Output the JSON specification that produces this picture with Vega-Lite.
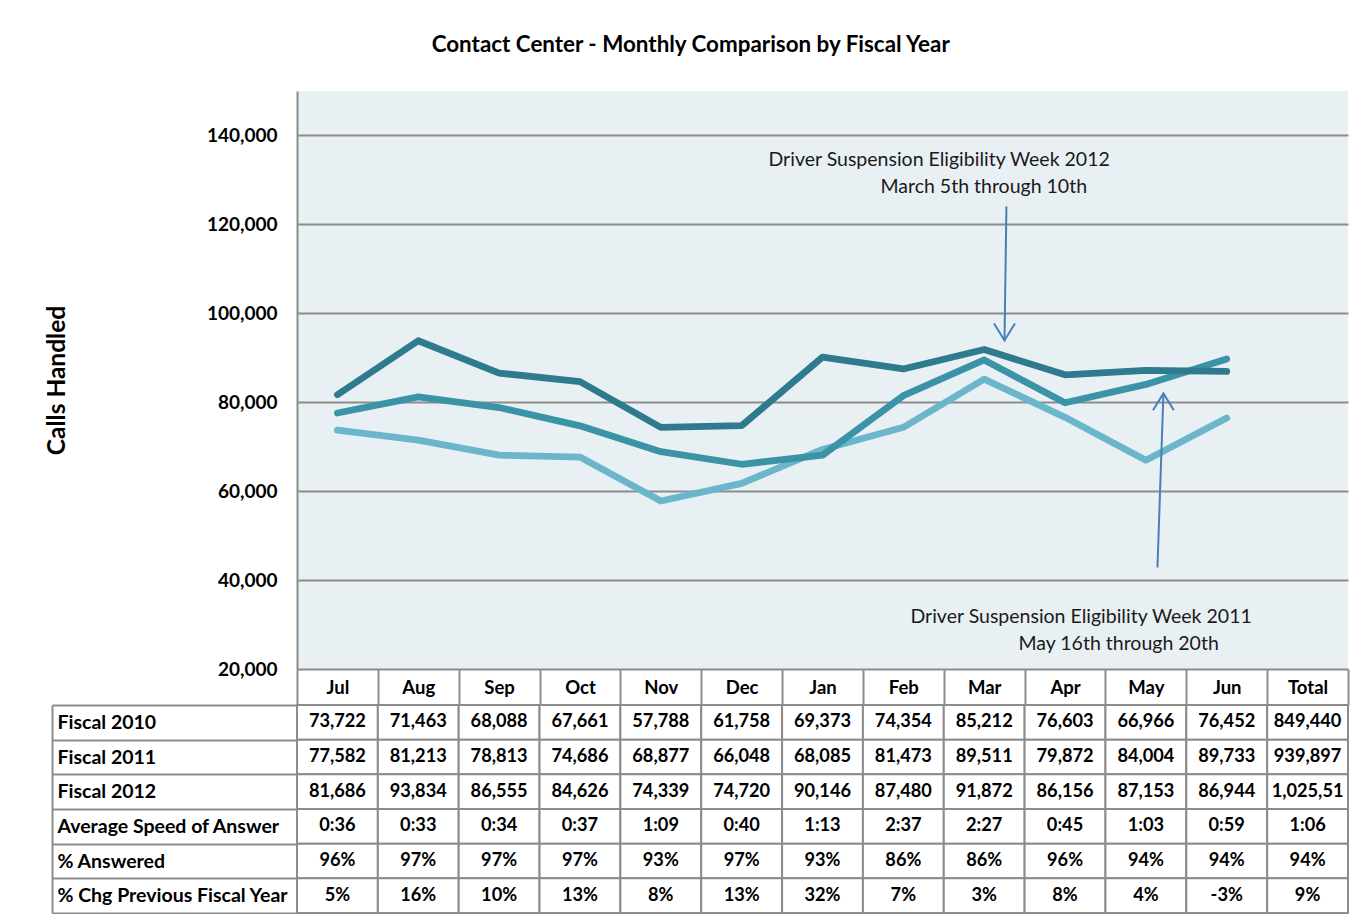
{
  "$schema": "https://vega.github.io/schema/vega-lite/v6.json",
  "background": "white",
  "padding": {"left": 44, "top": 33, "right": 10, "bottom": 0},
  "config": {"view": {"stroke": null}, "font": "Lato"},
  "title": {"text": "Contact Center - Monthly Comparison by Fiscal Year", "font": "Lato", "fontSize": 22.4, "fontWeight": "bold", "color": "black", "anchor": "middle", "offset": 35, "dx": -6},
  "spacing": 36,
  "bounds": "flush",
  "datasets": {
    "calls": [
      {"series": "Fiscal 2010", "month": "Jul", "calls": 73722},
      {"series": "Fiscal 2010", "month": "Aug", "calls": 71463},
      {"series": "Fiscal 2010", "month": "Sep", "calls": 68088},
      {"series": "Fiscal 2010", "month": "Oct", "calls": 67661},
      {"series": "Fiscal 2010", "month": "Nov", "calls": 57788},
      {"series": "Fiscal 2010", "month": "Dec", "calls": 61758},
      {"series": "Fiscal 2010", "month": "Jan", "calls": 69373},
      {"series": "Fiscal 2010", "month": "Feb", "calls": 74354},
      {"series": "Fiscal 2010", "month": "Mar", "calls": 85212},
      {"series": "Fiscal 2010", "month": "Apr", "calls": 76603},
      {"series": "Fiscal 2010", "month": "May", "calls": 66966},
      {"series": "Fiscal 2010", "month": "Jun", "calls": 76452},
      {"series": "Fiscal 2011", "month": "Jul", "calls": 77582},
      {"series": "Fiscal 2011", "month": "Aug", "calls": 81213},
      {"series": "Fiscal 2011", "month": "Sep", "calls": 78813},
      {"series": "Fiscal 2011", "month": "Oct", "calls": 74686},
      {"series": "Fiscal 2011", "month": "Nov", "calls": 68877},
      {"series": "Fiscal 2011", "month": "Dec", "calls": 66048},
      {"series": "Fiscal 2011", "month": "Jan", "calls": 68085},
      {"series": "Fiscal 2011", "month": "Feb", "calls": 81473},
      {"series": "Fiscal 2011", "month": "Mar", "calls": 89511},
      {"series": "Fiscal 2011", "month": "Apr", "calls": 79872},
      {"series": "Fiscal 2011", "month": "May", "calls": 84004},
      {"series": "Fiscal 2011", "month": "Jun", "calls": 89733},
      {"series": "Fiscal 2012", "month": "Jul", "calls": 81686},
      {"series": "Fiscal 2012", "month": "Aug", "calls": 93834},
      {"series": "Fiscal 2012", "month": "Sep", "calls": 86555},
      {"series": "Fiscal 2012", "month": "Oct", "calls": 84626},
      {"series": "Fiscal 2012", "month": "Nov", "calls": 74339},
      {"series": "Fiscal 2012", "month": "Dec", "calls": 74720},
      {"series": "Fiscal 2012", "month": "Jan", "calls": 90146},
      {"series": "Fiscal 2012", "month": "Feb", "calls": 87480},
      {"series": "Fiscal 2012", "month": "Mar", "calls": 91872},
      {"series": "Fiscal 2012", "month": "Apr", "calls": 86156},
      {"series": "Fiscal 2012", "month": "May", "calls": 87153},
      {"series": "Fiscal 2012", "month": "Jun", "calls": 86944}
    ],
    "notes": [
      {"label": "Driver Suspension Eligibility Week 2012", "pos": 5.832, "calls": 134398},
      {"label": "March 5th through 10th", "pos": 7.217, "calls": 128324},
      {"label": "Driver Suspension Eligibility Week 2011", "pos": 7.588, "calls": 31586},
      {"label": "May 16th through 20th", "pos": 8.924, "calls": 25512}
    ],
    "arrows": [
      {"pos": 8.775, "calls": 124049, "pos2": 8.751, "calls2": 93903},
      {"pos": 10.643, "calls": 42835, "pos2": 10.717, "calls2": 81980}
    ],
    "heads": [
      {"pos": 8.751, "calls": 93903, "dir": "down"},
      {"pos": 10.717, "calls": 81980, "dir": "up"}
    ],
    "table": [
      {"row": "Fiscal 2010", "Jul": "73,722", "Aug": "71,463", "Sep": "68,088", "Oct": "67,661", "Nov": "57,788", "Dec": "61,758", "Jan": "69,373", "Feb": "74,354", "Mar": "85,212", "Apr": "76,603", "May": "66,966", "Jun": "76,452", "Total": "849,440"},
      {"row": "Fiscal 2011", "Jul": "77,582", "Aug": "81,213", "Sep": "78,813", "Oct": "74,686", "Nov": "68,877", "Dec": "66,048", "Jan": "68,085", "Feb": "81,473", "Mar": "89,511", "Apr": "79,872", "May": "84,004", "Jun": "89,733", "Total": "939,897"},
      {"row": "Fiscal 2012", "Jul": "81,686", "Aug": "93,834", "Sep": "86,555", "Oct": "84,626", "Nov": "74,339", "Dec": "74,720", "Jan": "90,146", "Feb": "87,480", "Mar": "91,872", "Apr": "86,156", "May": "87,153", "Jun": "86,944", "Total": "1,025,51"},
      {"row": "Average Speed of Answer", "Jul": "0:36", "Aug": "0:33", "Sep": "0:34", "Oct": "0:37", "Nov": "1:09", "Dec": "0:40", "Jan": "1:13", "Feb": "2:37", "Mar": "2:27", "Apr": "0:45", "May": "1:03", "Jun": "0:59", "Total": "1:06"},
      {"row": "% Answered", "Jul": "96%", "Aug": "97%", "Sep": "97%", "Oct": "97%", "Nov": "93%", "Dec": "97%", "Jan": "93%", "Feb": "86%", "Mar": "86%", "Apr": "96%", "May": "94%", "Jun": "94%", "Total": "94%"},
      {"row": "% Chg Previous Fiscal Year", "Jul": "5%", "Aug": "16%", "Sep": "10%", "Oct": "13%", "Nov": "8%", "Dec": "13%", "Jan": "32%", "Feb": "7%", "Mar": "3%", "Apr": "8%", "May": "4%", "Jun": "-3%", "Total": "9%"}
    ]
  },
  "vconcat": [
    {
      "width": 1051,
      "height": 578,
      "view": {"fill": "#e9f0f4", "stroke": null},
      "encoding": {
        "y": {
          "field": "calls", "type": "quantitative",
          "scale": {"domain": [20000, 150000], "nice": false, "zero": false},
          "axis": {
            "title": "Calls Handled", "values": [20000, 40000, 60000, 80000, 100000, 120000, 140000],
            "labelExpr": "format(datum.value, ',')",
            "grid": true, "gridColor": "#8c8c8c", "gridWidth": 2,
            "domain": true, "domainColor": "#8c8c8c", "domainWidth": 2,
            "ticks": false, "labelPadding": 20,
            "labelFont": "Lato", "labelFontWeight": "bold", "labelFontSize": 19, "labelColor": "black",
            "titleFont": "Lato", "titleFontSize": 24.5, "titleFontWeight": "bold", "titleColor": "black", "titlePadding": 137
          }
        }
      },
      "layer": [
        {
          "data": {"name": "calls"},
          "mark": {"type": "line", "strokeWidth": 6.8, "strokeCap": "round", "strokeJoin": "round"},
          "encoding": {
            "x": {
              "field": "month", "type": "nominal", "bandPosition": 0.5,
              "sort": ["Jul", "Aug", "Sep", "Oct", "Nov", "Dec", "Jan", "Feb", "Mar", "Apr", "May", "Jun", "Total"],
              "scale": {"type": "band", "domain": ["Jul", "Aug", "Sep", "Oct", "Nov", "Dec", "Jan", "Feb", "Mar", "Apr", "May", "Jun", "Total"], "paddingInner": 0, "paddingOuter": 0},
              "axis": {
                "orient": "bottom", "title": null, "tickBand": "extent", "tickSize": 36, "tickColor": "#8c8c8c", "tickWidth": 2,
                "domain": false, "grid": false, "labelAngle": 0,
                "labelFont": "Lato", "labelFontWeight": "bold", "labelFontSize": 18.5, "labelColor": "black",
                "labelBaseline": "middle", "labelPadding": -18
              }
            },
            "color": {
              "field": "series", "type": "nominal",
              "scale": {"domain": ["Fiscal 2010", "Fiscal 2011", "Fiscal 2012"], "range": ["#6cb6cb", "#3b93a8", "#2e7b8d"]},
              "legend": null
            }
          }
        },
        {
          "data": {"name": "notes"},
          "mark": {"type": "text", "align": "left", "baseline": "middle", "font": "Lato", "fontSize": 19.5, "color": "#1a1a1a"},
          "encoding": {
            "x": {"field": "pos", "type": "quantitative", "scale": {"domain": [0, 13], "nice": false, "zero": false}, "axis": null},
            "text": {"field": "label"}
          }
        },
        {
          "data": {"name": "arrows"},
          "mark": {"type": "rule", "color": "#4a7ebb", "strokeWidth": 2},
          "encoding": {
            "x": {"field": "pos", "type": "quantitative", "scale": {"domain": [0, 13], "nice": false, "zero": false}, "axis": null},
            "x2": {"field": "pos2"},
            "y2": {"field": "calls2"}
          }
        },
        {
          "data": {"name": "heads"},
          "mark": {"type": "point", "filled": false, "color": "#4a7ebb", "strokeWidth": 2, "size": 1296, "opacity": 1},
          "encoding": {
            "x": {"field": "pos", "type": "quantitative", "scale": {"domain": [0, 13], "nice": false, "zero": false}, "axis": null},
            "shape": {
              "field": "dir", "type": "nominal",
              "scale": {"domain": ["down", "up"], "range": ["M-0.58,-0.94L0,0L0.58,-0.94", "M-0.58,0.94L0,0L0.58,0.94"]},
              "legend": null
            }
          }
        }
      ],
      "resolve": {"scale": {"x": "independent"}}
    },
    {
      "width": 1051,
      "height": 208,
      "data": {"name": "table"},
      "transform": [{"fold": ["Jul", "Aug", "Sep", "Oct", "Nov", "Dec", "Jan", "Feb", "Mar", "Apr", "May", "Jun", "Total"], "as": ["col", "txt"]}],
      "encoding": {
        "x": {
          "field": "col", "type": "nominal",
          "scale": {"type": "band", "domain": ["Jul", "Aug", "Sep", "Oct", "Nov", "Dec", "Jan", "Feb", "Mar", "Apr", "May", "Jun", "Total"], "paddingInner": 0, "paddingOuter": 0},
          "axis": null
        },
        "y": {
          "field": "row", "type": "nominal",
          "scale": {"type": "band", "domain": ["Fiscal 2010", "Fiscal 2011", "Fiscal 2012", "Average Speed of Answer", "% Answered", "% Chg Previous Fiscal Year"], "paddingInner": 0, "paddingOuter": 0},
          "axis": {
            "title": null, "orient": "left", "offset": 245, "tickBand": "extent", "tickSize": -245, "tickColor": "#8c8c8c", "tickWidth": 2,
            "domain": true, "domainColor": "#8c8c8c", "domainWidth": 2, "grid": false,
            "labelAlign": "left", "labelBaseline": "middle", "labelPadding": 240, "labelLimit": 0,
            "labelFont": "Lato", "labelFontWeight": "bold", "labelFontSize": 19.5, "labelColor": "black"
          }
        }
      },
      "layer": [
        {"mark": {"type": "rect", "fill": "white", "stroke": "#8c8c8c", "strokeWidth": 2}},
        {
          "mark": {"type": "text", "font": "Lato", "fontWeight": "bold", "fontSize": 18.2, "color": "black"},
          "encoding": {"text": {"field": "txt"}}
        }
      ]
    }
  ]
}
